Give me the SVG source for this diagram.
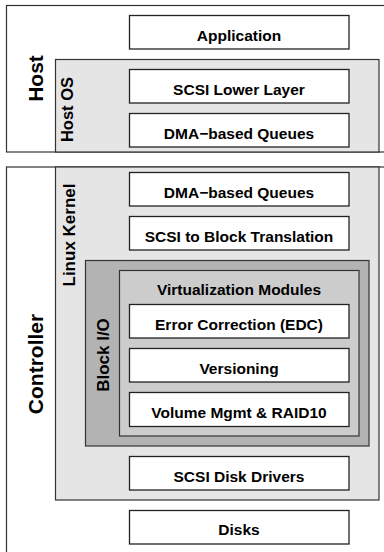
<svg xmlns="http://www.w3.org/2000/svg" width="384" height="552" viewBox="0 0 384 552">
<style>
text{font-family:"Liberation Sans",Arial,Helvetica,sans-serif;font-weight:bold;fill:#000}
.t{font-size:15.5px;text-anchor:middle}
.big{font-size:21px;text-anchor:middle}
.mid{font-size:17px;text-anchor:middle}
.outer{fill:#fff;stroke:#333;stroke-width:1.2}
.lt{fill:#e5e5e5;stroke:#333;stroke-width:1.2}
.dk{fill:#b3b3b3;stroke:#333;stroke-width:1.2}
.md{fill:#cccccc;stroke:#333;stroke-width:1.2}
.box{fill:#fff;stroke:#222;stroke-width:1.3}
</style>
<rect width="384" height="552" fill="#fff"/>
<g id="host">
<rect class="outer" x="6.5" y="5.5" width="390" height="146.5"/>
<text class="big" transform="translate(43,78.5) rotate(-90)">Host</text>
</g>
<g id="host-os">
<rect class="lt" x="55.5" y="59.5" width="323.5" height="92.5"/>
<text class="mid" style="font-size:16.5px" transform="translate(73,109.5) rotate(-90)">Host OS</text>
</g>
<g id="application">
<rect class="box" x="129.5" y="15.5" width="219.5" height="33.5"/>
<text class="t" x="239" y="40.5">Application</text>
</g>
<g id="scsi-lower-layer">
<rect class="box" x="129.5" y="69.5" width="219.5" height="33.5"/>
<text class="t" x="239" y="95">SCSI Lower Layer</text>
</g>
<g id="host-dma-queues">
<rect class="box" x="129.5" y="113.5" width="219.5" height="33.5"/>
<text class="t" x="239" y="138.5">DMA−based Queues</text>
</g>
<g id="controller">
<rect class="outer" x="6.5" y="167" width="390" height="400"/>
<text class="big" transform="translate(43,364) rotate(-90)">Controller</text>
</g>
<g id="linux-kernel">
<rect class="lt" x="55.5" y="167" width="323.5" height="333"/>
<text class="mid" transform="translate(75,235) rotate(-90)">Linux Kernel</text>
</g>
<g id="ctrl-dma-queues">
<rect class="box" x="129.5" y="172.5" width="219.5" height="33.5"/>
<text class="t" x="239" y="198">DMA−based Queues</text>
</g>
<g id="scsi-to-block">
<rect class="box" x="129.5" y="216.5" width="219.5" height="33.5"/>
<text class="t" x="239" y="242">SCSI to Block Translation</text>
</g>
<g id="block-io">
<rect class="dk" x="85.5" y="260.5" width="283.5" height="185.5"/>
<text class="mid" transform="translate(109,355) rotate(-90)">Block I/O</text>
</g>
<g id="virtualization-modules">
<rect class="md" x="119.5" y="270.5" width="239.5" height="165.5"/>
<text class="t" x="239" y="295">Virtualization Modules</text>
</g>
<g id="error-correction">
<rect class="box" x="129.5" y="304.5" width="219.5" height="33.5"/>
<text class="t" x="239" y="330">Error Correction (EDC)</text>
</g>
<g id="versioning">
<rect class="box" x="129.5" y="348.5" width="219.5" height="33.5"/>
<text class="t" x="239" y="374">Versioning</text>
</g>
<g id="volume-mgmt">
<rect class="box" x="129.5" y="392.5" width="219.5" height="34"/>
<text class="t" x="239" y="418">Volume Mgmt &amp; RAID10</text>
</g>
<g id="scsi-disk-drivers">
<rect class="box" x="129.5" y="456.5" width="219.5" height="33.5"/>
<text class="t" x="239" y="482">SCSI Disk Drivers</text>
</g>
<g id="disks">
<rect class="box" x="129.5" y="510.5" width="219.5" height="33.5"/>
<text class="t" x="239" y="535">Disks</text>
</g>
<g id="connectors"></g>
</svg>
